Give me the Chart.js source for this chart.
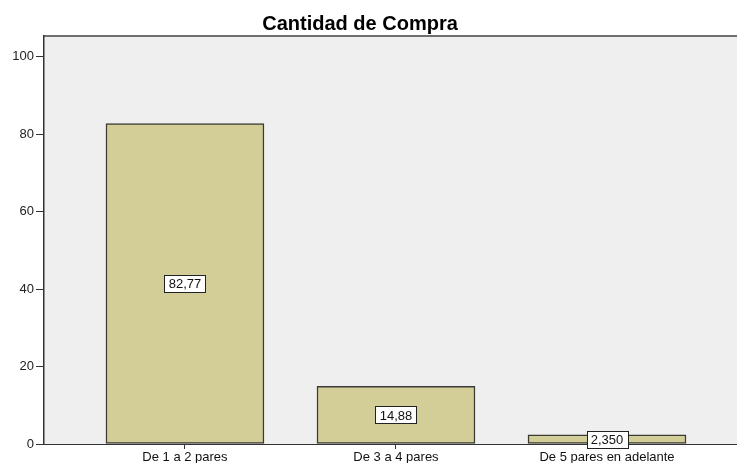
<!DOCTYPE html>
<html>
<head>
<meta charset="utf-8">
<script src="https://cdn.jsdelivr.net/npm/chart.js@4"></script>
<style>
  html, body { margin: 0; padding: 0; background: #fff; }
  #wrap { width: 737px; height: 463px; }
</style>
</head>
<body>
<div id="wrap"><canvas id="barChart" width="737" height="463"></canvas></div>
<script>
// data
const chartTitle = "Cantidad de Compra";
const categories = ["De 1 a 2 pares", "De 3 a 4 pares", "De 5 pares en adelante"];
const values = [82.77, 14.88, 2.35];
const valueLabels = ["82,77", "14,88", "2,350"];
const yTicks = [0, 20, 40, 60, 80, 100];

const FONT = "'Liberation Sans', Arial, sans-serif";

// grey plot background + top frame line
const plotBg = {
  id: "plotBg",
  beforeDraw(chart) {
    const { ctx, chartArea: a } = chart;
    ctx.save();
    ctx.fillStyle = "#efefef";
    ctx.fillRect(a.left, a.top, a.right - a.left, a.bottom - a.top);
    ctx.strokeStyle = "#6f6f6f";
    ctx.lineWidth = 2;
    ctx.beginPath();
    ctx.moveTo(a.left, a.top);
    ctx.lineTo(a.right, a.top);
    ctx.stroke();
    ctx.restore();
  },
};

// title drawn by hand so it sits where the original has it
const titleText = {
  id: "titleText",
  afterDraw(chart) {
    const { ctx } = chart;
    ctx.save();
    ctx.font = "bold 20px " + FONT;
    ctx.fillStyle = "#000";
    ctx.textAlign = "center";
    ctx.textBaseline = "alphabetic";
    ctx.fillText(chartTitle, 360, 30);
    ctx.restore();
  },
};

// boxed value labels in the middle of each bar
const boxLabels = {
  id: "boxLabels",
  afterDatasetsDraw(chart) {
    const { ctx } = chart;
    const meta = chart.getDatasetMeta(0);
    ctx.save();
    ctx.font = "13px " + FONT;
    ctx.textAlign = "center";
    ctx.textBaseline = "middle";
    meta.data.forEach((bar, i) => {
      const txt = valueLabels[i];
      const w = Math.round(ctx.measureText(txt).width + 8);
      const h = 17;
      const cx = bar.x;
      const cy = (bar.y + bar.base) / 2;
      const x0 = Math.round(cx - w / 2) + 0.5;
      const y0 = Math.round(cy - h / 2) + 0.5;
      ctx.fillStyle = "#fff";
      ctx.fillRect(x0, y0, w, h);
      ctx.strokeStyle = "#222";
      ctx.lineWidth = 1;
      ctx.strokeRect(x0, y0, w, h);
      ctx.fillStyle = "#111";
      ctx.fillText(txt, cx, cy + 1);
    });
    ctx.restore();
  },
};

const ctx = document.getElementById("barChart").getContext("2d");
new Chart(ctx, {
  type: "bar",
  data: {
    datasets: [
      {
        data: values.map((v, i) => ({ x: i + 1, y: v })),
        backgroundColor: "#d3ce98",
        borderColor: "#3b3b36",
        borderWidth: 1.5,
        borderSkipped: false,
        barThickness: 158,
      },
    ],
  },
  options: {
    responsive: false,
    animation: false,
    layout: { padding: { top: 36, right: 0, bottom: 0, left: 0 } },
    plugins: {
      legend: { display: false },
      title: { display: false },
      tooltip: { enabled: false },
    },
    scales: {
      x: {
        type: "linear",
        offset: false,
        min: 0.332,
        max: 3.616,
        afterBuildTicks: (axis) => {
          axis.ticks = categories.map((c, i) => ({ value: i + 1 }));
        },
        afterFit: (axis) => {
          axis.height = 19;
        },
        grid: { offset: false, drawOnChartArea: false, drawTicks: true, tickLength: 5, tickColor: "#333" },
        border: { display: true, color: "#333", width: 1 },
        ticks: {
          autoSkip: false,
          maxRotation: 0,
          padding: 1,
          color: "#111",
          font: { family: FONT, size: 13 },
          callback: (v) => categories[v - 1],
        },
      },
      y: {
        min: 0,
        max: 105.4,
        afterBuildTicks: (axis) => {
          axis.ticks = yTicks.map((v) => ({ value: v }));
        },
        afterFit: (axis) => {
          axis.width = 44;
        },
        grid: { drawOnChartArea: false, drawTicks: true, tickLength: 8, tickColor: "#333" },
        border: { display: true, color: "#333", width: 1.5 },
        ticks: {
          padding: 2,
          color: "#222",
          font: { family: FONT, size: 13 },
        },
      },
    },
  },
  plugins: [plotBg, titleText, boxLabels],
});
</script>
</body>
</html>
